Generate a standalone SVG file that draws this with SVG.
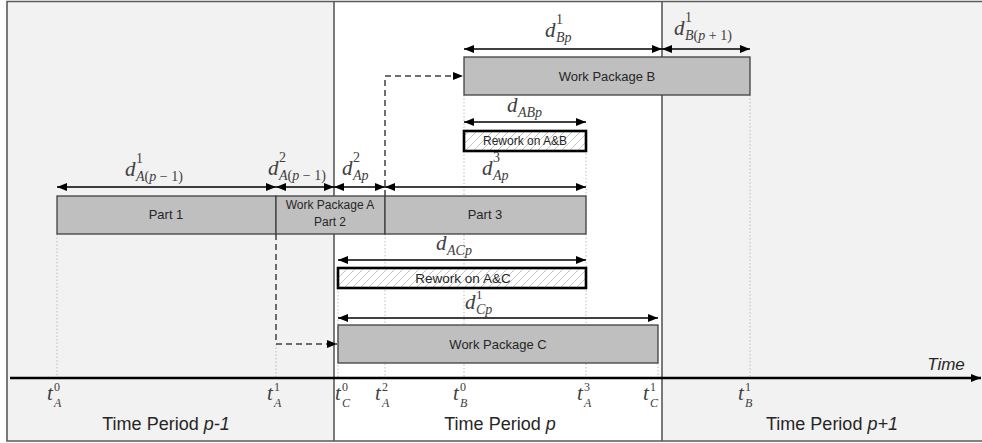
<svg xmlns="http://www.w3.org/2000/svg" width="982" height="443" viewBox="0 0 982 443">
<style>
.bgg{fill:#f2f2f2}
.sep{stroke:#595959;stroke-width:1.6;fill:none}
.guide{stroke:#bdbdbd;stroke-width:1;stroke-dasharray:1.5 2}
.bar{fill:#bfbfbf;stroke:#404040;stroke-width:1.3}
.rw{fill:url(#hatch);stroke:#000;stroke-width:2.6}
.dim{stroke:#000;stroke-width:1.3;marker-start:url(#ah);marker-end:url(#ah)}
.conn{stroke:#404040;stroke-width:1.5;stroke-dasharray:6 4;fill:none;marker-end:url(#ah)}
.lbl{font-family:"Liberation Sans",Arial,sans-serif;font-size:13px;fill:#262626;text-anchor:middle}
.per{font-family:"Liberation Sans",Arial,sans-serif;font-size:18px;fill:#262626;text-anchor:middle}
.it{font-style:italic}
.up{font-style:normal}
.md{font-family:"Liberation Serif","DejaVu Serif",serif;font-style:italic;font-size:21px;fill:#404040}
.ms{font-size:14px}
.ts{font-size:12px}
</style>
<defs>
<marker id="ah" viewBox="0 0 10 8" refX="10" refY="4" markerWidth="10" markerHeight="8" markerUnits="userSpaceOnUse" orient="auto-start-reverse">
<path d="M0,0 L10,4 L0,8 z" fill="#000"/>
</marker>
<pattern id="hatch" width="8" height="8" patternUnits="userSpaceOnUse">
<rect width="8" height="8" fill="#fff"/>
<path d="M-2,2 L2,-2 M0,8 L8,0 M6,10 L10,6" stroke="#c4c4c4" stroke-width="1"/>
</pattern>
</defs>

<g id="background">
<rect x="7" y="1.5" width="327" height="439.5" class="bgg"/>
<rect x="334" y="1.5" width="328" height="439.5" fill="#fff"/>
<rect x="662" y="1.5" width="322" height="439.5" class="bgg"/>
<path class="sep" d="M984,1.5 H7 V441 H984"/>
<line class="sep" x1="334" y1="1.5" x2="334" y2="441"/>
<line class="sep" x1="662" y1="1.5" x2="662" y2="441"/>
</g>

<g id="guides">
<line class="guide" x1="57" y1="234" x2="57" y2="378"/>
<line class="guide" x1="276" y1="344" x2="276" y2="378"/>
<line class="guide" x1="338" y1="288" x2="338" y2="378"/>
<line class="guide" x1="385" y1="234" x2="385" y2="378"/>
<line class="guide" x1="464" y1="95" x2="464" y2="378"/>
<line class="guide" x1="586" y1="150" x2="586" y2="378"/>
<line class="guide" x1="658" y1="363" x2="658" y2="378"/>
<line class="guide" x1="750" y1="95" x2="750" y2="378"/>
</g>

<g id="wp-b">
<rect class="bar" x="464" y="57" width="286" height="38"/>
<text class="lbl" x="607" y="81">Work Package B</text>
</g>
<g id="rework-ab">
<rect class="rw" x="464" y="131" width="122" height="20"/>
<text class="lbl" x="525" y="145" style="font-size:12px">Rework on A&amp;B</text>
</g>
<g id="wp-a-part1">
<rect class="bar" x="57" y="196" width="219" height="38"/>
<text class="lbl" x="166" y="219">Part 1</text>
</g>
<g id="wp-a-part2">
<rect class="bar" x="276" y="196" width="109" height="38"/>
<text class="lbl" x="330" y="209" style="font-size:12px">Work Package A</text>
<text class="lbl" x="330" y="226" style="font-size:12px">Part 2</text>
</g>
<g id="wp-a-part3">
<rect class="bar" x="385" y="196" width="201" height="38"/>
<text class="lbl" x="485" y="219">Part 3</text>
</g>
<g id="rework-ac">
<rect class="rw" x="338" y="268" width="248" height="20"/>
<text class="lbl" x="463" y="283" style="font-size:13.5px">Rework on A&amp;C</text>
</g>
<g id="wp-c">
<rect class="bar" x="338" y="325" width="320" height="38"/>
<text class="lbl" x="498" y="349">Work Package C</text>
</g>

<g id="connectors">
<line class="dim" x1="464" y1="49" x2="662" y2="49"/>
<line class="dim" x1="662" y1="49" x2="750" y2="49"/>
<line class="dim" x1="464" y1="122" x2="586" y2="122"/>
<line class="dim" x1="57" y1="187" x2="276" y2="187"/>
<line class="dim" x1="276" y1="187" x2="334" y2="187"/>
<line class="dim" x1="334" y1="187" x2="385" y2="187"/>
<line class="dim" x1="385" y1="187" x2="586" y2="187"/>
<line class="dim" x1="338" y1="260" x2="586" y2="260"/>
<line class="dim" x1="338" y1="318" x2="658" y2="318"/>
<path class="conn" d="M385,196 V76 H463"/>
<path class="conn" d="M276,234 V344 H337"/>
<line x1="10" y1="378" x2="981" y2="378" stroke="#000" stroke-width="2.5" marker-end="url(#ah)"/>
</g>

<g id="dim-labels">
<text class="md" x="125" y="176">d<tspan class="ms up" x="136" y="163">1</tspan><tspan class="ms" x="136" y="181">A<tspan class="up">(</tspan>p<tspan class="up"> − 1)</tspan></tspan></text>
<text class="md" x="268" y="175">d<tspan class="ms up" x="279" y="162">2</tspan><tspan class="ms" x="279" y="180">A<tspan class="up">(</tspan>p<tspan class="up"> − 1)</tspan></tspan></text>
<text class="md" x="342" y="175">d<tspan class="ms up" x="353" y="162">2</tspan><tspan class="ms" x="353" y="180">Ap</tspan></text>
<text class="md" x="482" y="175">d<tspan class="ms up" x="493" y="162">3</tspan><tspan class="ms" x="493" y="180">Ap</tspan></text>
<text class="md" x="545" y="37">d<tspan class="ms up" x="556" y="24">1</tspan><tspan class="ms" x="556" y="42">Bp</tspan></text>
<text class="md" x="674" y="35">d<tspan class="ms up" x="685" y="22">1</tspan><tspan class="ms" x="685" y="40">B<tspan class="up">(</tspan>p<tspan class="up"> + 1)</tspan></tspan></text>
<text class="md" x="507" y="112">d<tspan class="ms" x="518" y="117">ABp</tspan></text>
<text class="md" x="436" y="250">d<tspan class="ms" x="447" y="255">ACp</tspan></text>
<text class="md" x="465" y="309">d<tspan class="ms up" x="476" y="299" style="font-size:13px">1</tspan><tspan class="ms" x="476" y="314">Cp</tspan></text>
</g>

<g id="time-labels">
<text class="md" x="47" y="400">t<tspan class="ts up" x="54" y="391">0</tspan><tspan class="ts" x="54" y="407">A</tspan></text>
<text class="md" x="267" y="400">t<tspan class="ts up" x="274" y="391">1</tspan><tspan class="ts" x="274" y="407">A</tspan></text>
<text class="md" x="335" y="400">t<tspan class="ts up" x="342" y="391">0</tspan><tspan class="ts" x="342" y="407">C</tspan></text>
<text class="md" x="375" y="400">t<tspan class="ts up" x="382" y="391">2</tspan><tspan class="ts" x="382" y="407">A</tspan></text>
<text class="md" x="453" y="400">t<tspan class="ts up" x="460" y="391">0</tspan><tspan class="ts" x="460" y="407">B</tspan></text>
<text class="md" x="577" y="400">t<tspan class="ts up" x="584" y="391">3</tspan><tspan class="ts" x="584" y="407">A</tspan></text>
<text class="md" x="643" y="400">t<tspan class="ts up" x="650" y="391">1</tspan><tspan class="ts" x="650" y="407">C</tspan></text>
<text class="md" x="738" y="400">t<tspan class="ts up" x="745" y="391">1</tspan><tspan class="ts" x="745" y="407">B</tspan></text>
</g>

<g id="period-labels">
<text class="per" x="166" y="430">Time Period <tspan class="it">p-1</tspan></text>
<text class="per" x="500" y="430">Time Period <tspan class="it">p</tspan></text>
<text class="per" x="832" y="430">Time Period <tspan class="it">p+1</tspan></text>
<text class="lbl it" x="946" y="370" style="font-size:17px">Time</text>
</g>
</svg>
